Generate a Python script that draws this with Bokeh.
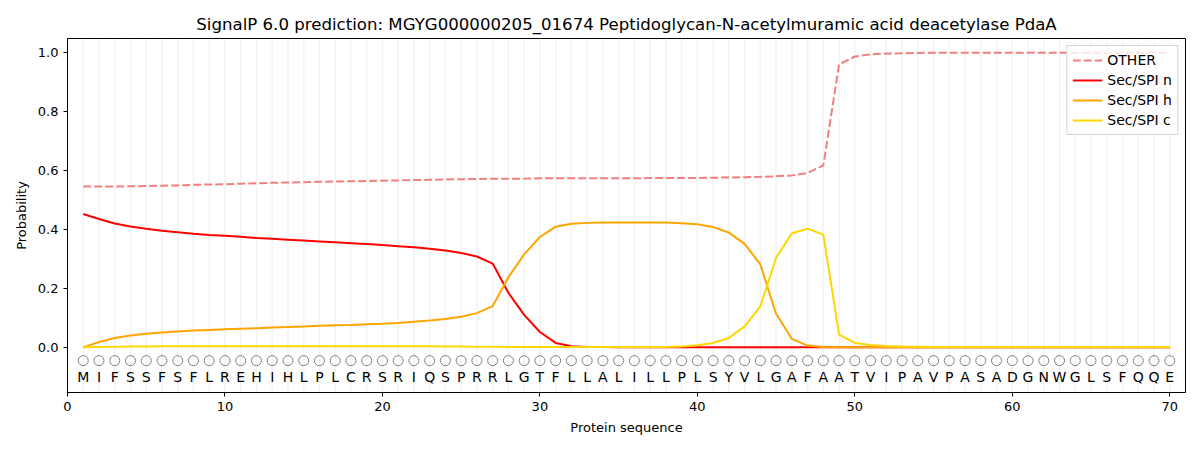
from bokeh.plotting import figure
from bokeh.models import FixedTicker, PrintfTickFormatter, Range1d, Legend
from bokeh.core.properties import value
from bokeh.embed import file_html
from bokeh.resources import INLINE

# prepare some data
sequence = list("MIFSSFSFLREHIHLPLCRSRIQSPRRLGTFLLALILLPLSYVLGAFAATVIPAVPASADGNWGLSFQQE")
positions = list(range(1, len(sequence) + 1))

other = [0.545, 0.545, 0.545, 0.546, 0.547, 0.548, 0.549, 0.551, 0.552, 0.553,
         0.555, 0.556, 0.558, 0.559, 0.560, 0.561, 0.562, 0.563, 0.564, 0.565,
         0.566, 0.567, 0.568, 0.569, 0.570, 0.571, 0.572, 0.572, 0.572, 0.573,
         0.573, 0.573, 0.573, 0.573, 0.573, 0.573, 0.574, 0.574, 0.574, 0.574,
         0.575, 0.576, 0.577, 0.578, 0.580, 0.583, 0.591, 0.617, 0.959, 0.986,
         0.993, 0.996, 0.997, 0.998, 0.999, 0.999, 0.999, 0.999, 0.999, 0.999,
         0.999, 0.999, 0.999, 0.999, 0.999, 0.999, 0.999, 0.999, 0.999, 0.999]
sec_n = [0.452, 0.435, 0.420, 0.410, 0.402, 0.395, 0.390, 0.385, 0.381, 0.378,
         0.375, 0.371, 0.368, 0.365, 0.362, 0.359, 0.356, 0.353, 0.350, 0.347,
         0.343, 0.339, 0.334, 0.328, 0.320, 0.308, 0.284, 0.185, 0.110, 0.052,
         0.015, 0.004, 0.001, 0.001, 0.0, 0.0, 0.0, 0.0, 0.0, 0.0,
         0.0, 0.0, 0.0, 0.0, 0.0, 0.0, 0.0, 0.0, 0.0, 0.0,
         0.0, 0.0, 0.0, 0.0, 0.0, 0.0, 0.0, 0.0, 0.0, 0.0,
         0.0, 0.0, 0.0, 0.0, 0.0, 0.0, 0.0, 0.0, 0.0, 0.0]
sec_h = [0.0, 0.018, 0.032, 0.040, 0.046, 0.050, 0.054, 0.057, 0.059, 0.061,
         0.063, 0.065, 0.067, 0.069, 0.071, 0.073, 0.075, 0.076, 0.078, 0.080,
         0.083, 0.087, 0.091, 0.096, 0.104, 0.116, 0.140, 0.238, 0.315, 0.374,
         0.409, 0.419, 0.422, 0.423, 0.423, 0.423, 0.423, 0.423, 0.421, 0.417,
         0.408, 0.389, 0.351, 0.281, 0.114, 0.029, 0.006, 0.001, 0.0, 0.0,
         0.0, 0.0, 0.0, 0.0, 0.0, 0.0, 0.0, 0.0, 0.0, 0.0,
         0.0, 0.0, 0.0, 0.0, 0.0, 0.0, 0.0, 0.0, 0.0, 0.0]
sec_c = [0.0, 0.001, 0.002, 0.003, 0.003, 0.004, 0.004, 0.004, 0.004, 0.004,
         0.004, 0.004, 0.004, 0.004, 0.004, 0.004, 0.004, 0.004, 0.004, 0.004,
         0.004, 0.004, 0.004, 0.003, 0.003, 0.002, 0.002, 0.001, 0.001, 0.001,
         0.001, 0.001, 0.001, 0.001, 0.001, 0.001, 0.001, 0.001, 0.003, 0.007,
         0.015, 0.032, 0.071, 0.139, 0.304, 0.387, 0.402, 0.382, 0.043, 0.015,
         0.008, 0.005, 0.003, 0.002, 0.001, 0.001, 0.001, 0.001, 0.001, 0.001,
         0.001, 0.001, 0.001, 0.001, 0.001, 0.001, 0.001, 0.001, 0.001, 0.001]

FONT = "DejaVu Sans"

p = figure(
    width=1200, height=450,
    x_range=Range1d(0, 71), y_range=Range1d(-0.153, 1.047),
    title="SignalP 6.0 prediction: MGYG000000205_01674 Peptidoglycan-N-acetylmuramic acid deacetylase PdaA",
    x_axis_label="Protein sequence", y_axis_label="Probability",
    output_backend="svg", toolbar_location=None,
    min_border_left=67, min_border_right=15, min_border_top=38, min_border_bottom=58,
)

# title and axes in matplotlib look
p.title.align = "center"
p.title.text_font = FONT
p.title.text_font_size = "16.6px"
p.title.text_font_style = "normal"
p.title.text_color = "black"
p.outline_line_color = "black"
p.outline_line_width = 1
p.xgrid.grid_line_color = None
p.ygrid.grid_line_color = None

for ax in (p.xaxis[0], p.yaxis[0]):
    ax.axis_label_text_font = FONT
    ax.axis_label_text_font_size = "13px"
    ax.axis_label_text_font_style = "normal"
    ax.axis_label_text_color = "black"
    ax.major_label_text_font = FONT
    ax.major_label_text_font_size = "13px"
    ax.major_label_text_color = "black"
    ax.minor_tick_line_color = None
    ax.major_tick_in = 0
    ax.major_tick_out = 4
    ax.axis_label_standoff = 6

p.xaxis.ticker = FixedTicker(ticks=[0, 10, 20, 30, 40, 50, 60, 70])
p.yaxis.ticker = FixedTicker(ticks=[0.0, 0.2, 0.4, 0.6, 0.8, 1.0])
p.yaxis.formatter = PrintfTickFormatter(format="%.1f")

# light vertical line per residue
p.segment(x0=positions, y0=-0.153, x1=positions, y1=1.047,
          line_color="#e8e8e8", line_width=1.5, line_alpha=0.5)

# residue markers and letters
p.scatter(positions, [-0.045] * len(positions), marker="circle", size=10,
          fill_color=None, line_color="grey", line_width=1)
p.text(positions, [-0.10] * len(positions), text=sequence,
       text_align="center", text_baseline="middle",
       text_font=value(FONT), text_font_size="14px", text_color="black")

# probability curves
r_other = p.line(positions, other, line_color="lightcoral", line_width=2, line_dash="8 3")
r_n = p.line(positions, sec_n, line_color="red", line_width=2)
r_h = p.line(positions, sec_h, line_color="orange", line_width=2)
r_c = p.line(positions, sec_c, line_color="gold", line_width=2)

legend = Legend(items=[("OTHER", [r_other]), ("Sec/SPI n", [r_n]),
                       ("Sec/SPI h", [r_h]), ("Sec/SPI c", [r_c])],
                location="top_right")
legend.label_text_font = FONT
legend.label_text_font_size = "14px"
legend.label_text_color = "black"
legend.label_height = 18
legend.glyph_height = 18
legend.border_line_color = "#cccccc"
legend.border_line_alpha = 0.8
legend.background_fill_alpha = 0.8
legend.spacing = 2
legend.padding = 5
legend.margin = 7
legend.glyph_width = 30
p.add_layout(legend)

open("out.html", "w").write(file_html(p, INLINE))
